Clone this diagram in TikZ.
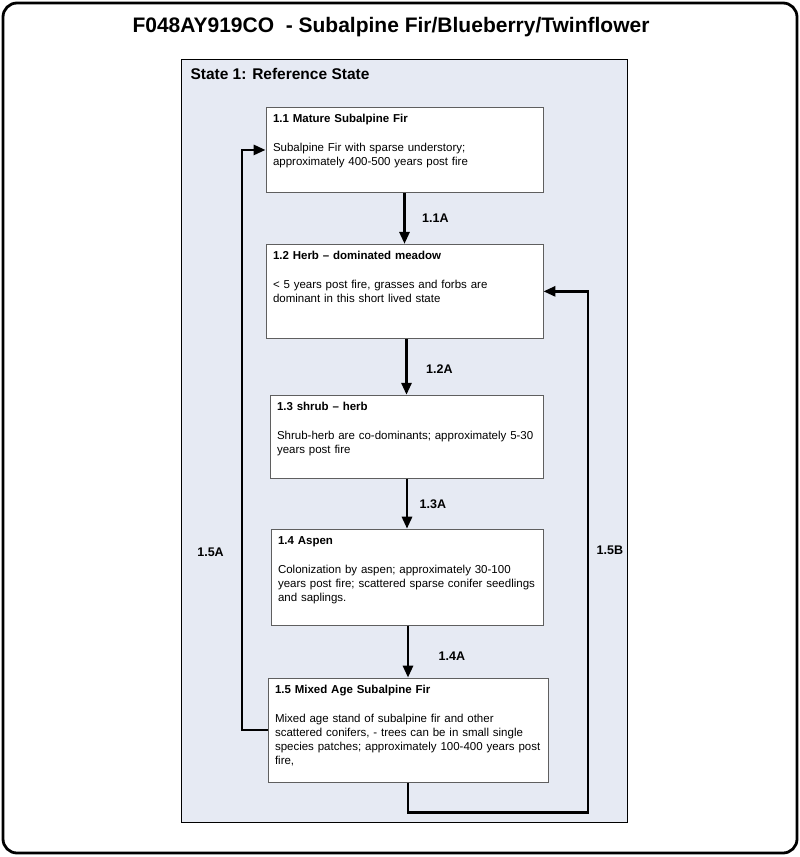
\documentclass[tikz,border=0pt]{standalone}
\usepackage{fontspec}
\setmainfont{Liberation Sans}
\usetikzlibrary{positioning,arrows.meta}
\definecolor{statefill}{RGB}{230,234,243}
\definecolor{boxline}{RGB}{95,95,95}

\begin{document}
\begin{tikzpicture}[x=1pt,y=-1pt,node distance=51pt,
   phase/.style={draw=boxline,fill=white,line width=0.9pt,anchor=north,align=left,
      inner xsep=7pt,inner ysep=5pt,text height=10pt,font=\fontsize{11.5}{14}\selectfont},
   flow/.style={line width=2.8pt,-{Triangle[length=12pt,width=10pt]}},
   tag/.style={font=\fontsize{12.5}{15}\selectfont\bfseries}]
   \useasboundingbox (0,0) rectangle (800,857);
   \draw[line width=2.8pt,rounded corners=14pt] (3,3) rectangle (797,853);
   \node[anchor=base] (title) at (391,32) {\fontsize{21}{24}\selectfont\bfseries F048AY919CO \ - Subalpine Fir/Blueberry/Twinflower};
   \node[draw,fill=statefill,line width=1.4pt,anchor=north west,inner sep=0pt,
      minimum width=446pt,minimum height=763pt] (ref) at (181,59) {};
   \node[anchor=base west] (reftitle) at (187,79) {\fontsize{15.5}{18}\selectfont\bfseries State 1: Reference State};
   \node[phase,text width=263pt,text depth=65pt] (b11) at (404.5,107)
      {\textbf{1.1 Mature Subalpine Fir}\\[15pt]Subalpine Fir with sparse understory;\\approximately 400-500 years post fire};
   \node[phase,text width=263pt,text depth=74pt] (b12) [below=51pt of b11]
      {\textbf{1.2 Herb – dominated meadow}\\[15pt]< 5 years post fire, grasses and forbs are\\dominant in this short lived state};
   \node[phase,text width=259pt,text depth=63pt] (b13) [below=56pt of b12,xshift=2pt]
      {\textbf{1.3 shrub – herb}\\[15pt]Shrub-herb are co-dominants; approximately 5-30\\years post fire};
   \node[phase,text width=258pt,text depth=76pt] (b14) [below=50pt of b13,xshift=0.5pt]
      {\textbf{1.4 Aspen}\\[15pt]Colonization by aspen; approximately 30-100\\years post fire; scattered sparse conifer seedlings\\and saplings.};
   \node[phase,text width=266pt,text depth=84pt] (b15) [below=52pt of b14,xshift=1pt]
      {\textbf{1.5 Mixed Age Subalpine Fir}\\[15pt]Mixed age stand of subalpine fir and other\\scattered conifers, - trees can be in small single\\species patches; approximately 100-400 years post\\fire,};
   \coordinate (lA) at (242,552);
   \coordinate (rB) at (588,550);
    \path[flow]
    (b11) edge node[tag,right=13pt] {1.1A} (b12)
    (b12.south -| b13) edge node[tag,right=15pt,yshift=-2pt] {1.2A} (b13)
    (b13.south -| b14) edge node[tag,right=8pt] {1.3A} (b14)
    (b14.south -| b15) edge node[tag,right=26pt,yshift=-5pt] {1.4A} (b15);
   \draw[flow] (b15.west) -| (lA) node[tag,left=13.5pt] {1.5A} |- (b11.west);
   \draw[flow] (b15.south) -- ++(0,30) -| (rB) node[tag,right=4pt] {1.5B} |- (b12.east);
\end{tikzpicture}
\end{document}
